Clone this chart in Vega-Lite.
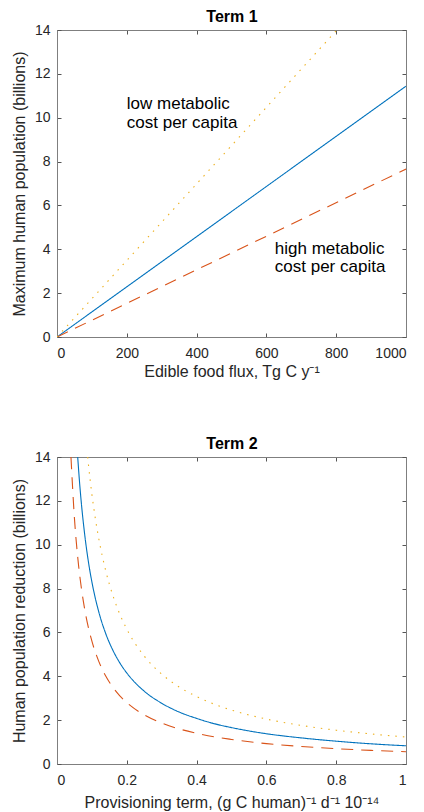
{
  "$schema": "https://vega.github.io/schema/vega-lite/v6.json",
  "padding": {"left": 10, "top": 8, "right": 0, "bottom": 2},
  "spacing": 55,
  "config": {
    "font": "Liberation Sans",
    "view": {"stroke": "#7f7f7f", "strokeWidth": 1},
    "axis": {
      "grid": false,
      "tickSize": -4,
      "tickColor": "#555555",
      "domainColor": "#7f7f7f",
      "labelColor": "#262626",
      "labelFontSize": 14,
      "titleFontSize": 16,
      "titleFontWeight": "normal",
      "titleColor": "#262626",
      "minExtent": 0
    },
    "axisBottom": {"labelPadding": 13, "titlePadding": 3},
    "axisLeft": {"labelPadding": 11, "titlePadding": 7},
    "axisTop": {"titleFontWeight": "bold", "titleColor": "#000000", "titlePadding": 5, "labels": false}
  },
  "datasets": {
    "term1": [
      {"series": "baseline", "flux": 0, "pop": 0},
      {"series": "baseline", "flux": 1000, "pop": 11.44},
      {"series": "high cost", "flux": 0, "pop": 0},
      {"series": "high cost", "flux": 1000, "pop": 7.66},
      {"series": "low cost", "flux": 0, "pop": 0},
      {"series": "low cost", "flux": 802, "pop": 14}
    ],
    "labels1": [
      {"flux": 200, "pop": 10.38, "label": "low metabolic"},
      {"flux": 200, "pop": 9.55, "label": "cost per capita"},
      {"flux": 624, "pop": 3.8, "label": "high metabolic"},
      {"flux": 624, "pop": 2.98, "label": "cost per capita"}
    ],
    "term2": [
      {"series": "high cost", "prov": 0.04, "red": 14},
      {"series": "high cost", "prov": 0.05, "red": 11.2},
      {"series": "high cost", "prov": 0.06, "red": 9.33},
      {"series": "high cost", "prov": 0.07, "red": 8.0},
      {"series": "high cost", "prov": 0.08, "red": 7.0},
      {"series": "high cost", "prov": 0.09, "red": 6.22},
      {"series": "high cost", "prov": 0.1, "red": 5.6},
      {"series": "high cost", "prov": 0.12, "red": 4.67},
      {"series": "high cost", "prov": 0.14, "red": 4.0},
      {"series": "high cost", "prov": 0.16, "red": 3.5},
      {"series": "high cost", "prov": 0.18, "red": 3.11},
      {"series": "high cost", "prov": 0.2, "red": 2.8},
      {"series": "high cost", "prov": 0.25, "red": 2.24},
      {"series": "high cost", "prov": 0.3, "red": 1.87},
      {"series": "high cost", "prov": 0.35, "red": 1.6},
      {"series": "high cost", "prov": 0.4, "red": 1.4},
      {"series": "high cost", "prov": 0.45, "red": 1.24},
      {"series": "high cost", "prov": 0.5, "red": 1.12},
      {"series": "high cost", "prov": 0.6, "red": 0.93},
      {"series": "high cost", "prov": 0.7, "red": 0.8},
      {"series": "high cost", "prov": 0.8, "red": 0.7},
      {"series": "high cost", "prov": 0.9, "red": 0.62},
      {"series": "high cost", "prov": 1.0, "red": 0.56},
      {"series": "baseline", "prov": 0.0593, "red": 14},
      {"series": "baseline", "prov": 0.065, "red": 12.77},
      {"series": "baseline", "prov": 0.07, "red": 11.86},
      {"series": "baseline", "prov": 0.08, "red": 10.38},
      {"series": "baseline", "prov": 0.09, "red": 9.22},
      {"series": "baseline", "prov": 0.1, "red": 8.3},
      {"series": "baseline", "prov": 0.12, "red": 6.92},
      {"series": "baseline", "prov": 0.14, "red": 5.93},
      {"series": "baseline", "prov": 0.16, "red": 5.19},
      {"series": "baseline", "prov": 0.18, "red": 4.61},
      {"series": "baseline", "prov": 0.2, "red": 4.15},
      {"series": "baseline", "prov": 0.25, "red": 3.32},
      {"series": "baseline", "prov": 0.3, "red": 2.77},
      {"series": "baseline", "prov": 0.35, "red": 2.37},
      {"series": "baseline", "prov": 0.4, "red": 2.08},
      {"series": "baseline", "prov": 0.45, "red": 1.84},
      {"series": "baseline", "prov": 0.5, "red": 1.66},
      {"series": "baseline", "prov": 0.6, "red": 1.38},
      {"series": "baseline", "prov": 0.7, "red": 1.19},
      {"series": "baseline", "prov": 0.8, "red": 1.04},
      {"series": "baseline", "prov": 0.9, "red": 0.92},
      {"series": "baseline", "prov": 1.0, "red": 0.83},
      {"series": "low cost", "prov": 0.0879, "red": 14},
      {"series": "low cost", "prov": 0.09, "red": 13.67},
      {"series": "low cost", "prov": 0.1, "red": 12.3},
      {"series": "low cost", "prov": 0.11, "red": 11.18},
      {"series": "low cost", "prov": 0.12, "red": 10.25},
      {"series": "low cost", "prov": 0.14, "red": 8.79},
      {"series": "low cost", "prov": 0.16, "red": 7.69},
      {"series": "low cost", "prov": 0.18, "red": 6.83},
      {"series": "low cost", "prov": 0.2, "red": 6.15},
      {"series": "low cost", "prov": 0.25, "red": 4.92},
      {"series": "low cost", "prov": 0.3, "red": 4.1},
      {"series": "low cost", "prov": 0.35, "red": 3.51},
      {"series": "low cost", "prov": 0.4, "red": 3.08},
      {"series": "low cost", "prov": 0.45, "red": 2.73},
      {"series": "low cost", "prov": 0.5, "red": 2.46},
      {"series": "low cost", "prov": 0.6, "red": 2.05},
      {"series": "low cost", "prov": 0.7, "red": 1.76},
      {"series": "low cost", "prov": 0.8, "red": 1.54},
      {"series": "low cost", "prov": 0.9, "red": 1.37},
      {"series": "low cost", "prov": 1.0, "red": 1.23}
    ]
  },
  "vconcat": [
    {
      "width": 349,
      "height": 307,
      "layer": [
        {
          "data": {"name": "term1"},
          "mark": {"type": "line", "strokeWidth": 1.1, "clip": true},
          "encoding": {
            "x": {"field": "flux", "type": "quantitative", "scale": {"domain": [0, 1000], "nice": false},
                  "axis": {"orient": "bottom", "values": [0, 200, 400, 600, 800, 1000], "format": "d", "title": "Edible food flux, Tg C y⁻¹"}},
            "y": {"field": "pop", "type": "quantitative", "scale": {"domain": [0, 14], "nice": false},
                  "axis": {"orient": "left", "values": [0, 2, 4, 6, 8, 10, 12, 14], "title": "Maximum human population (billions)"}},
            "color": {"field": "series", "type": "nominal", "legend": null,
                      "scale": {"domain": ["baseline", "high cost", "low cost"], "range": ["#0072BD", "#D95319", "#EDB120"]}},
            "strokeDash": {"field": "series", "type": "nominal", "legend": null,
                      "scale": {"domain": ["baseline", "high cost", "low cost"], "range": [[1, 0], [12, 8], [1.5, 6]]}}
          }
        },
        {
          "data": {"name": "labels1"},
          "mark": {"type": "text", "align": "left", "baseline": "alphabetic", "fontSize": 17, "color": "#000000"},
          "encoding": {
            "x": {"field": "flux", "type": "quantitative",
                  "axis": {"orient": "top", "values": [0, 200, 400, 600, 800, 1000], "labels": false, "title": "Term 1"}},
            "y": {"field": "pop", "type": "quantitative",
                  "axis": {"orient": "right", "values": [0, 2, 4, 6, 8, 10, 12, 14], "labels": false, "title": null}},
            "text": {"field": "label"}
          }
        }
      ]
    },
    {
      "width": 349,
      "height": 307,
      "layer": [
        {
          "data": {"name": "term2"},
          "mark": {"type": "line", "strokeWidth": 1.1, "clip": true, "interpolate": "monotone"},
          "encoding": {
            "x": {"field": "prov", "type": "quantitative", "scale": {"domain": [0, 1], "nice": false},
                  "axis": {"orient": "bottom", "values": [0, 0.2, 0.4, 0.6, 0.8, 1], "format": "~g", "titlePadding": 7, "title": "Provisioning term, (g C human)⁻¹ d⁻¹ 10⁻¹⁴"}},
            "y": {"field": "red", "type": "quantitative", "scale": {"domain": [0, 14], "nice": false},
                  "axis": {"orient": "left", "values": [0, 2, 4, 6, 8, 10, 12, 14], "title": "Human population reduction (billions)"}},
            "color": {"field": "series", "type": "nominal", "legend": null,
                      "scale": {"domain": ["baseline", "high cost", "low cost"], "range": ["#0072BD", "#D95319", "#EDB120"]}},
            "strokeDash": {"field": "series", "type": "nominal", "legend": null,
                      "scale": {"domain": ["baseline", "high cost", "low cost"], "range": [[1, 0], [12, 8], [1.5, 6]]}}
          }
        },
        {
          "data": {"name": "term2"},
          "mark": {"type": "point", "opacity": 0},
          "encoding": {
            "x": {"field": "prov", "type": "quantitative",
                  "axis": {"orient": "top", "values": [0, 0.2, 0.4, 0.6, 0.8, 1], "labels": false, "title": "Term 2"}},
            "y": {"field": "red", "type": "quantitative",
                  "axis": {"orient": "right", "values": [0, 2, 4, 6, 8, 10, 12, 14], "labels": false, "title": null}}
          }
        }
      ]
    }
  ]
}
